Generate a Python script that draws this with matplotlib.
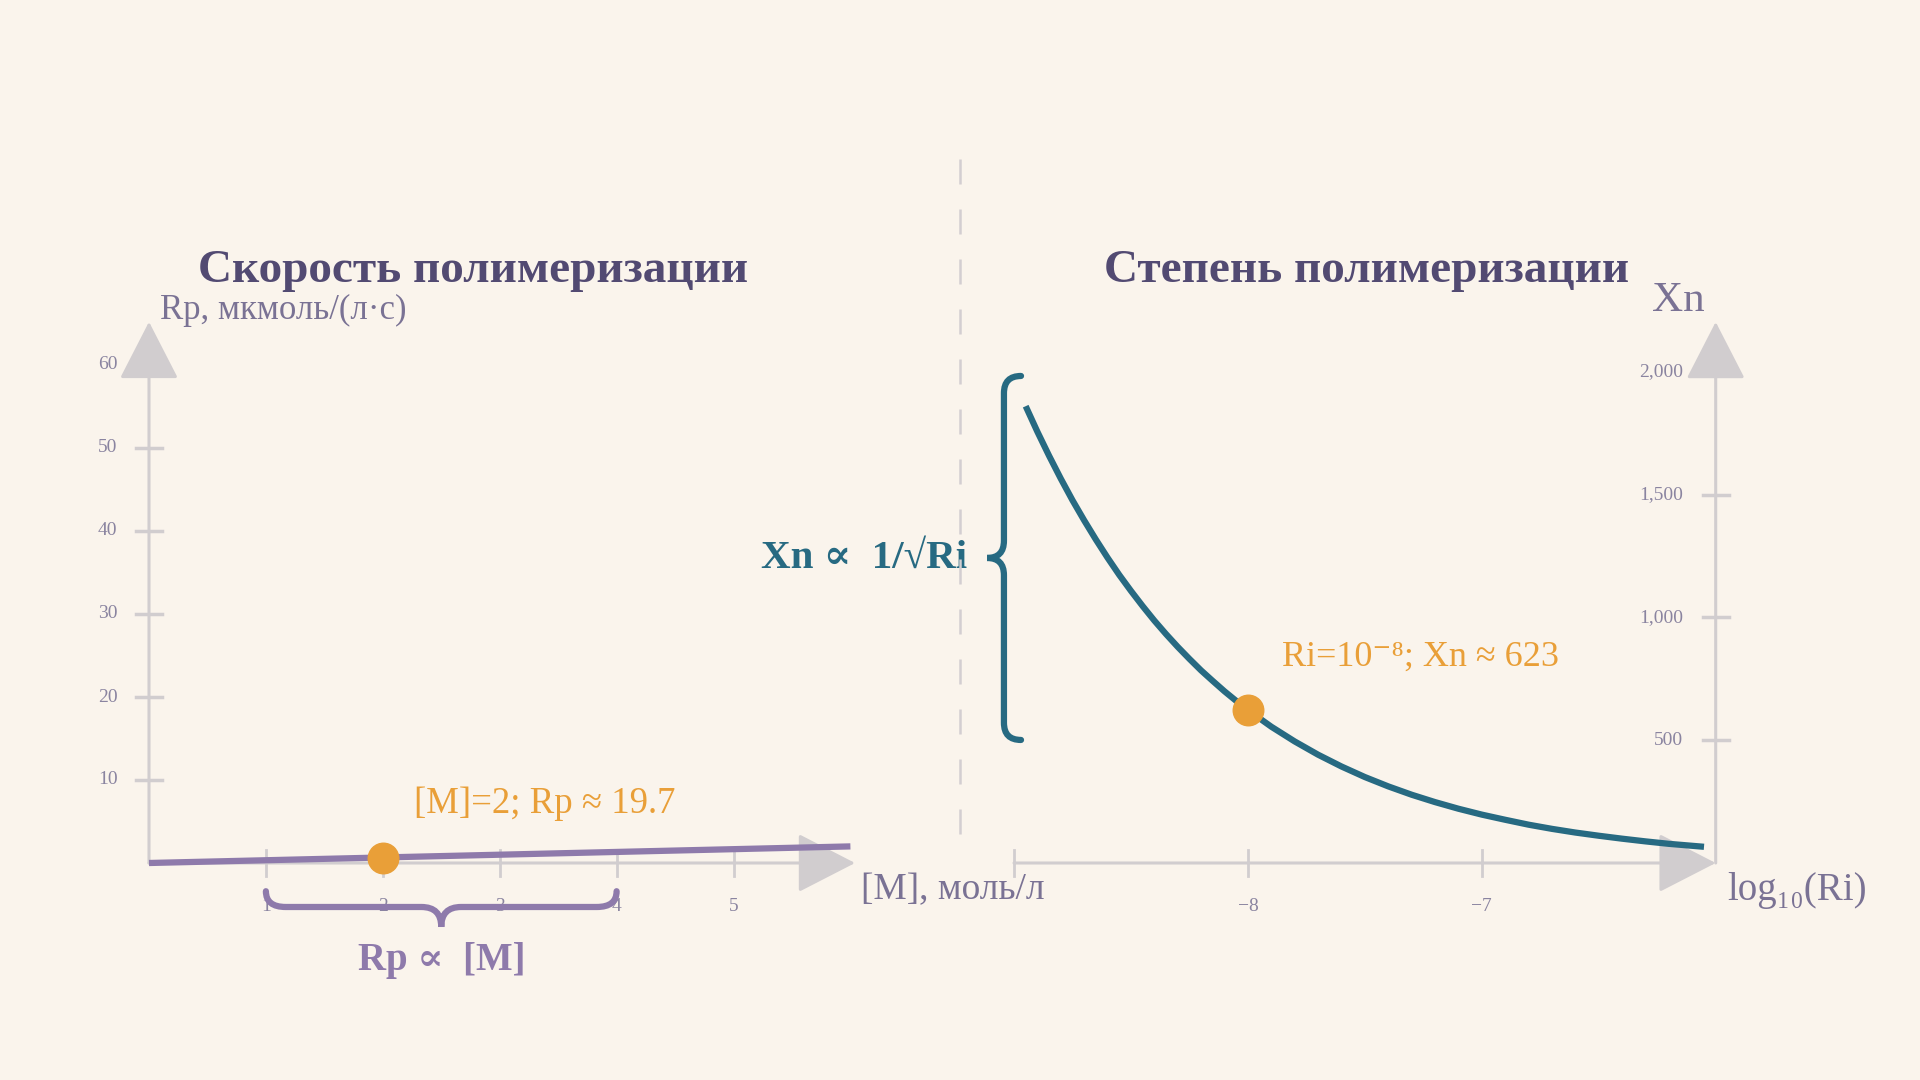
import numpy as np
import matplotlib.pyplot as plt
from matplotlib.path import Path
from matplotlib.patches import PathPatch

# ---- data ----
m_conc = [0.0, 6.0]              # [M], моль/л
rp_line = [0.0, 2.0]             # plotted Rp line (as drawn)
m_point, rp_point = 2.0, 0.62    # highlighted point
left_yticks = [10, 20, 30, 40, 50, 60]
left_xticks = [1, 2, 3, 4, 5]

log_ri = [-8.95, -8.9, -8.85, -8.8, -8.75, -8.7, -8.65, -8.6, -8.55, -8.5,
          -8.45, -8.4, -8.35, -8.3, -8.25, -8.2, -8.15, -8.1, -8.05, -8.0,
          -7.9, -7.8, -7.7, -7.6, -7.5, -7.4, -7.3, -7.2, -7.1, -7.0,
          -6.9, -6.8, -6.7, -6.6, -6.5, -6.4, -6.3, -6.2, -6.1, -6.05]
xn = [1860, 1756, 1658, 1565, 1477, 1395, 1317, 1243, 1173, 1108,
      1046, 987, 932, 880, 831, 784, 741, 699, 660, 623,
      555, 495, 441, 393, 350, 312, 278, 248, 221, 197,
      176, 156, 139, 124, 111, 99, 88, 78, 70, 66]
ri_point, xn_point = -8.0, 623
right_yticks = [500, 1000, 1500, 2000]
right_xticks = [-9, -8, -7]

BG = '#faf4ec'
AXIS = '#d1cdcf'
TITLE = '#524a72'
LABEL = '#7a7294'
TICKLAB = '#8a84a0'
PURPLE = '#8e7aab'
TEAL = '#276a82'
ORANGE = '#e99f38'

plt.rcParams['font.family'] = ['Liberation Serif', 'DejaVu Serif']

fig = plt.figure(figsize=(19.2, 10.8), dpi=100, facecolor=BG)
W, H = 1920, 1080


def add_axes_px(x0, y0, w, h):
    # x0 from the left, y0 = bottom edge from the top, in pixels
    ax = fig.add_axes([x0 / W, (H - y0) / H, w / W, h / H])
    ax.set_facecolor('none')
    ax.axis('off')
    return ax


def brace(ax, pts, color, lw):
    codes = [Path.MOVETO, Path.CURVE3, Path.CURVE3, Path.LINETO,
             Path.CURVE3, Path.CURVE3, Path.CURVE3, Path.CURVE3,
             Path.LINETO, Path.CURVE3, Path.CURVE3]
    ax.add_patch(PathPatch(Path(pts, codes), fill=False, edgecolor=color,
                           lw=lw, capstyle='round', clip_on=False, zorder=5))


def draw_arrow(ax, start, tip):
    ax.annotate('', xy=tip, xytext=start, annotation_clip=False,
                arrowprops=dict(arrowstyle='-|>,head_length=3.7,head_width=1.9',
                                mutation_scale=10, lw=2.2, color=AXIS,
                                shrinkA=0, shrinkB=0))


# ---------------- left panel ----------------
sx, sy = 116.9, 8.30  # px per unit
axL = add_axes_px(149, 863, 6 * sx, 60 * sy)
axL.set_xlim(0, 6)
axL.set_ylim(0, 60)

draw_arrow(axL, (0, 0), (0, 65.2))
draw_arrow(axL, (0, 0), (6.04, 0))
for v in left_yticks:
    axL.plot([-13 / sx, 13 / sx], [v, v], color=AXIS, lw=2.5,
             clip_on=False, zorder=1)
    axL.text(-0.27, v, str(v), ha='right', va='center', fontsize=14,
             color=TICKLAB)
for v in left_xticks:
    axL.plot([v, v], [-13 / sy, 13 / sy], color=AXIS, lw=2, clip_on=False,
             zorder=1)
    axL.text(v, -5.2, str(v), ha='center', va='center', fontsize=14,
             color=TICKLAB)

axL.plot(m_conc, rp_line, color=PURPLE, lw=4.5, clip_on=False, zorder=3,
         solid_capstyle='butt')
axL.plot([m_point], [rp_point], 'o', ms=22, color=ORANGE, clip_on=False,
         zorder=4)
axL.text(2.27, 7.1, '[M]=2; Rp ≈ 19.7', fontsize=26.5, color=ORANGE,
         ha='left', va='center')

# horizontal brace under 1..4
x1, x2, xm = 1.0, 4.0, 2.5
y0, ya, yt = -3.4, -5.3, -7.7
r = 0.17
brace(axL, [(x1, y0), (x1, ya), (x1 + r, ya), (xm - r, ya),
            (xm, ya), (xm, yt), (xm, ya), (xm + r, ya),
            (x2 - r, ya), (x2, ya), (x2, y0)], PURPLE, 4.5)
axL.text(xm, -11.8, 'Rp ∝  [M]', fontsize=28, fontweight='bold',
         color=PURPLE, ha='center', va='center')

axL.text(0.09, 66.6, 'Rp, мкмоль/(л·с)', fontsize=25, color=LABEL,
         ha='left', va='center')
fig.text(473 / W, 1 - 271 / H, 'Скорость полимеризации', fontsize=34,
         fontweight='bold', color=TITLE, ha='center', va='center')
axL.text(6.09, -3.3, '[M], моль/л', fontsize=27, color=LABEL,
         ha='left', va='center')

# ---------------- right panel ----------------
rx, ry = 233.9, 0.2456
axR = add_axes_px(1014, 863, 3 * rx, 2000 * ry)
axR.set_xlim(-9, -6)
axR.set_ylim(0, 2000)

draw_arrow(axR, (-6, 0), (-6, 2203))
draw_arrow(axR, (-9, 0), (-6.0, 0))
for v in right_yticks:
    axR.plot([-6 - 13 / rx, -6 + 13 / rx], [v, v], color=AXIS, lw=2.5,
             clip_on=False, zorder=1)
    axR.text(-6.14, v, f'{v:,}', ha='right', va='center', fontsize=14,
             color=TICKLAB)
for v in right_xticks:
    axR.plot([v, v], [-13 / ry, 13 / ry], color=AXIS, lw=2, clip_on=False,
             zorder=1)
    if v != -9:
        axR.text(v, -178, str(v).replace('-', '−'), ha='center',
                 va='center', fontsize=14, color=TICKLAB)

axR.plot(log_ri, xn, color=TEAL, lw=4.5, clip_on=False, zorder=3,
         solid_capstyle='butt')
axR.plot([ri_point], [xn_point], 'o', ms=22, color=ORANGE, clip_on=False,
         zorder=4)
axR.text(-7.854, 836, 'Ri=10⁻⁸; Xn ≈ 623', fontsize=26, color=ORANGE,
         ha='left', va='center')

# vertical brace on the left of the curve
bx, bxa, bxt = -8.97, -9.043, -9.115
yb0, yb1, ym = 1983, 501, 1242
rr = 70
brace(axR, [(bx, yb0), (bxa, yb0), (bxa, yb0 - rr), (bxa, ym + rr),
            (bxa, ym), (bxt, ym), (bxa, ym), (bxa, ym - rr),
            (bxa, yb1 + rr), (bxa, yb1), (bx, yb1)], TEAL, 4.5)
axR.text(-9.2, 1240, 'Xn ∝  1/√Ri', fontsize=29.5, fontweight='bold',
         color=TEAL, ha='right', va='center')

fig.text(1367 / W, 1 - 271 / H, 'Степень полимеризации', fontsize=34,
         fontweight='bold', color=TITLE, ha='center', va='center')
fig.text(1678 / W, 1 - 301 / H, 'Xn', fontsize=31, color=LABEL,
         ha='center', va='center')
axR.text(-5.95, -110, 'log₁₀(Ri)', fontsize=28, color=LABEL,
         ha='left', va='center')

# dashed separator
fig.add_artist(plt.Line2D([960 / W, 960 / W], [1 - 159 / H, 1 - 845 / H],
                          color='#d3ced1', lw=1.8, dashes=(10, 10)))

fig.savefig('out.png', dpi=100, facecolor=BG)
